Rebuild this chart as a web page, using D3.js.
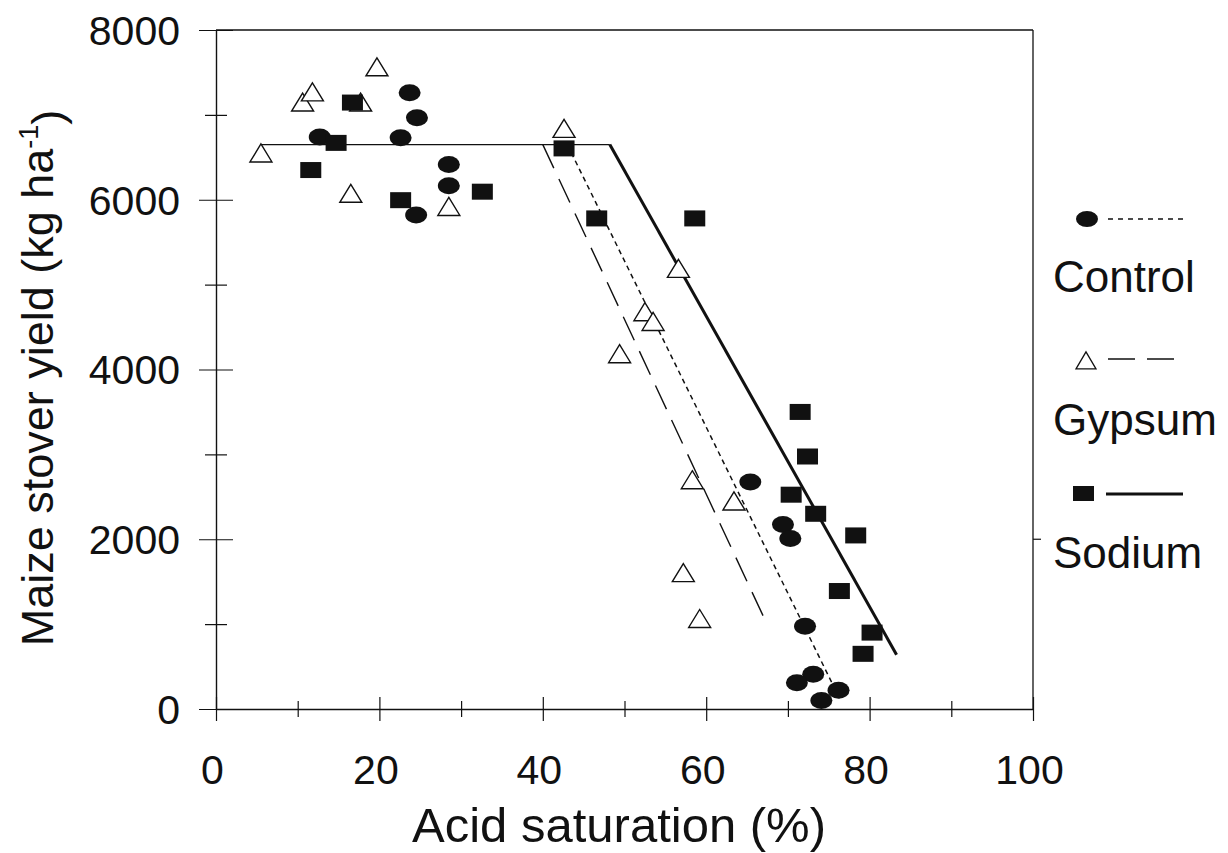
<!DOCTYPE html>
<html>
<head>
<meta charset="utf-8">
<script src="https://cdn.jsdelivr.net/npm/d3@7"></script>
<style>
  body { margin: 0; background: #fff; }
  text { font-family: "Liberation Sans", Arial, sans-serif; fill: #111; }
</style>
</head>
<body>
<svg id="chart"></svg>
<script>
// Chart dimensions
const width = 1228;
const height = 853;

// DATA (acid saturation %, stover yield kg/ha)
const controlPts = [
  [23.7, 7260], [24.6, 6965], [22.6, 6730], [12.7, 6740], [28.5, 6415],
  [28.5, 6165], [24.5, 5820], [65.4, 2675], [69.4, 2175], [70.3, 2010],
  [72.1, 975], [73.1, 410], [71.1, 310], [76.2, 220], [74.1, 100]
];
const gypsumPts = [
  [5.5, 6530], [10.6, 7130], [11.8, 7250], [17.7, 7130], [19.7, 7545],
  [16.5, 6055], [28.5, 5900], [42.6, 6820], [56.6, 5170], [52.5, 4660],
  [53.5, 4545], [49.4, 4165], [58.3, 2680], [63.4, 2430], [57.2, 1585],
  [59.2, 1045]
];
const sodiumPts = [
  [16.7, 7145], [14.7, 6670], [11.6, 6350], [22.6, 5995], [32.6, 6095],
  [42.6, 6605], [46.6, 5780], [58.6, 5780], [71.5, 3500], [72.4, 2975],
  [70.4, 2525], [73.4, 2300], [78.3, 2045], [76.3, 1390], [80.3, 900],
  [79.2, 650]
];

// fitted lines: plateau start, break point, end of the slope
const plateauStart = [5.5, 6650];
const controlFit = [[43.0, 6650], [76.4, 110]];
const gypsumFit = [[40.0, 6650], [67.1, 1070]];
const sodiumFit = [[48.2, 6650], [83.3, 640]];

const xTicks = [0, 10, 20, 30, 40, 50, 60, 70, 80, 90, 100];
const yTicks = [0, 1000, 2000, 3000, 4000, 5000, 6000, 7000, 8000];
const seriesNames = ["Control", "Gypsum", "Sodium"];

const svg = d3.select("#chart").attr("width", width).attr("height", height);

// SCALES
const x = d3.scaleLinear().domain([0, 100]).range([216, 1033]);
const y = d3.scaleLinear().domain([0, 8000]).range([709, 30]);

const ink = "#111";

// frame (top + right)
svg.append("line")
  .attr("x1", x(0)).attr("x2", x(100)).attr("y1", y(8000)).attr("y2", y(8000))
  .attr("stroke", ink).attr("stroke-width", 1.3);
svg.append("line")
  .attr("x1", x(100)).attr("x2", x(100)).attr("y1", y(8000)).attr("y2", y(0))
  .attr("stroke", ink).attr("stroke-width", 1.3);
// little tick on the right axis
svg.append("line")
  .attr("x1", x(100)).attr("x2", x(100) + 8).attr("y1", y(2000)).attr("y2", y(2000))
  .attr("stroke", ink).attr("stroke-width", 1.2);

// AXES
const yAxis = d3.axisLeft(y).tickValues(yTicks).tickSize(0)
  .tickFormat(d => d % 2000 === 0 ? d : "");
const gy = svg.append("g").attr("transform", `translate(${x(0)},0)`).call(yAxis);
gy.select(".domain").attr("stroke", ink).attr("stroke-width", 1.4);
gy.selectAll(".tick line")
  .attr("x1", d => d % 2000 === 0 ? -17 : -11)
  .attr("x2", d => d % 2000 === 0 ? 17 : 11)
  .attr("stroke", ink).attr("stroke-width", 1.2);
gy.selectAll(".tick text")
  .attr("x", -36).attr("dy", "0.35em")
  .style("font-size", "41px").attr("fill", ink);

const xAxis = d3.axisBottom(x).tickValues(xTicks).tickSize(0)
  .tickFormat(d => d % 20 === 0 ? d : "");
const gx = svg.append("g").attr("transform", `translate(0,${y(0)})`).call(xAxis);
gx.select(".domain").attr("stroke", ink).attr("stroke-width", 1.4);
gx.selectAll(".tick line")
  .attr("y1", d => d % 20 === 0 ? -12 : -8)
  .attr("y2", d => d % 20 === 0 ? 12 : 8)
  .attr("stroke", ink).attr("stroke-width", 1.2);
gx.selectAll(".tick text")
  .attr("x", -4).attr("y", 75).attr("dy", 0)
  .style("font-size", "41px").attr("fill", ink);

// axis titles
svg.append("text")
  .attr("x", 619).attr("y", 842)
  .attr("text-anchor", "middle")
  .style("font-size", "49px")
  .text("Acid saturation (%)");

const yTitle = svg.append("text")
  .attr("transform", "translate(53,378) rotate(-90)")
  .attr("text-anchor", "middle")
  .style("font-size", "45px");
yTitle.append("tspan").text("Maize stover yield (kg ha");
yTitle.append("tspan").attr("dy", "-0.55em").style("font-size", "27px").text("-1");
yTitle.append("tspan").attr("dy", "0.55em").text(")");

// FIT LINES
const line = d3.line().x(d => x(d[0])).y(d => y(d[1]));

// plateau (shared, thin)
svg.append("path")
  .attr("d", line([plateauStart, sodiumFit[0]]))
  .attr("fill", "none").attr("stroke", ink).attr("stroke-width", 1.3);

svg.append("path")
  .attr("d", line(gypsumFit))
  .attr("fill", "none").attr("stroke", ink).attr("stroke-width", 1.4)
  .attr("stroke-dasharray", "26 12");
svg.append("path")
  .attr("d", line(controlFit))
  .attr("fill", "none").attr("stroke", ink).attr("stroke-width", 1.5)
  .attr("stroke-dasharray", "5 4");
svg.append("path")
  .attr("d", line(sodiumFit))
  .attr("fill", "none").attr("stroke", ink).attr("stroke-width", 3);

// MARKERS
const triPath = (w, h) => `M0,${-h * 0.6}L${w / 2},${h * 0.4}L${-w / 2},${h * 0.4}Z`;

svg.append("g").selectAll("path")
  .data(gypsumPts).enter().append("path")
  .attr("transform", d => `translate(${x(d[0])},${y(d[1])})`)
  .attr("d", triPath(22, 18))
  .attr("fill", "#fff").attr("stroke", ink).attr("stroke-width", 1.4);

svg.append("g").selectAll("ellipse")
  .data(controlPts).enter().append("ellipse")
  .attr("cx", d => x(d[0])).attr("cy", d => y(d[1]))
  .attr("rx", 11).attr("ry", 8.5)
  .attr("fill", ink);

svg.append("g").selectAll("rect")
  .data(sodiumPts).enter().append("rect")
  .attr("x", d => x(d[0]) - 10.5).attr("y", d => y(d[1]) - 8)
  .attr("width", 21).attr("height", 16)
  .attr("fill", ink);

// LEGEND
const legend = svg.append("g").attr("id", "legend");

legend.append("ellipse").attr("cx", 1087).attr("cy", 219).attr("rx", 11).attr("ry", 8).attr("fill", ink);
legend.append("line").attr("x1", 1108).attr("x2", 1188).attr("y1", 219).attr("y2", 219)
  .attr("stroke", ink).attr("stroke-width", 1.3).attr("stroke-dasharray", "5 5");

legend.append("path").attr("transform", "translate(1086,362)").attr("d", triPath(20, 17))
  .attr("fill", "#fff").attr("stroke", ink).attr("stroke-width", 1.3);
legend.append("line").attr("x1", 1108).attr("x2", 1175).attr("y1", 359).attr("y2", 359)
  .attr("stroke", ink).attr("stroke-width", 1.3).attr("stroke-dasharray", "27 12");

legend.append("rect").attr("x", 1073).attr("y", 486).attr("width", 21).attr("height", 15).attr("fill", ink);
legend.append("line").attr("x1", 1106).attr("x2", 1183).attr("y1", 494).attr("y2", 494)
  .attr("stroke", ink).attr("stroke-width", 3);

legend.selectAll("text.lab")
  .data(seriesNames).enter().append("text")
  .attr("class", "lab")
  .attr("x", 1053)
  .attr("y", (d, i) => [292, 435, 568][i])
  .style("font-size", "44px")
  .text(d => d);
</script>
</body>
</html>
